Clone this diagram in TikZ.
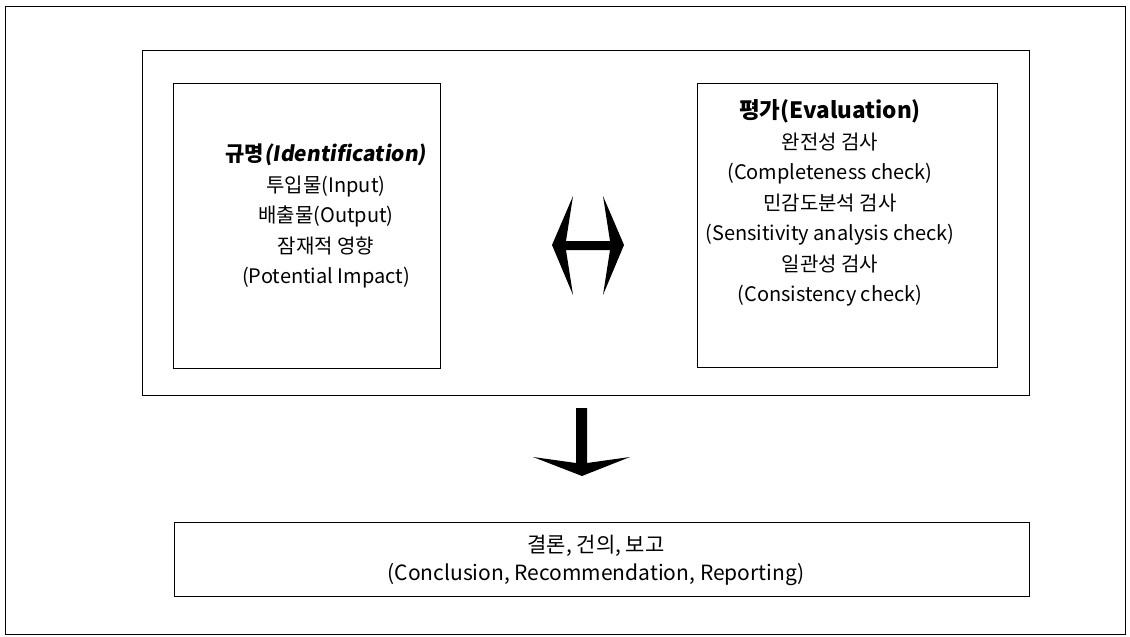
\documentclass[tikz,border=0pt]{standalone}
\usepackage{fontspec}
\setmainfont{Noto Sans CJK KR}
\newfontfamily\slfont{Noto Sans CJK KR}[FakeSlant=0.15]
\begin{document}
\begin{tikzpicture}[x=1pt,y=-1pt,
  frame/.style={draw=black,line width=1.1pt},
  box/.style={draw=black,line width=1.4pt,inner sep=0pt,anchor=north west},
  txt/.style={align=center,font=\fontsize{20}{30.5}\selectfont,inner sep=0pt},
  arrowfill/.style={fill=black,draw=none}]
\useasboundingbox (0,0) rectangle (1130,637);
% outer frame
\node[frame,inner sep=0pt,anchor=north west,minimum width=1120pt,minimum height=628pt] (outer) at (5,6) {};
% inner frame
\node[frame,inner sep=0pt,anchor=north west,minimum width=887pt,minimum height=345pt] (group) at (142,50) {};
% left box
\node[box,minimum width=267pt,minimum height=285pt] (ident) at (173,83) {};
% right box
\node[box,minimum width=300pt,minimum height=284pt] (eval) at (697,83) {};
% bottom box
\node[box,minimum width=855pt,minimum height=74pt] (concl) at (174,522) {};
% texts
\node[txt] (identtxt) at (326,216) {{\fontsize{21}{30.5}\selectfont\bfseries 규명{\slfont(Identification)}}\\
  투입물(Input)\\ 배출물(Output)\\ 잠재적 영향\\ (Potential Impact)};
\node[txt] (evaltxt) at (830,203) {{\fontsize{22.5}{30.5}\selectfont\bfseries 평가(Evaluation)}\\
  완전성 검사\\ (Completeness check)\\ 민감도분석 검사\\ (Sensitivity analysis check)\\
  일관성 검사\\ (Consistency check)};
\node[txt,font=\fontsize{21}{28}\selectfont] (concltxt) at (596,560) {결론, 건의, 보고\\ (Conclusion, Recommendation, Reporting)};
% double arrow between boxes
\fill[arrowfill] (552,245) -- (573,196) -- (566,241) -- (610,241) -- (603,196) -- (624,245)
  -- (603,295) -- (610,250) -- (566,250) -- (573,295) -- cycle;
% down arrow
\fill[arrowfill] (533,457) -- (576,463) -- (576,408) -- (587,408) -- (587,463) -- (630,457)
  -- (582,476) -- cycle;
\end{tikzpicture}
\end{document}
